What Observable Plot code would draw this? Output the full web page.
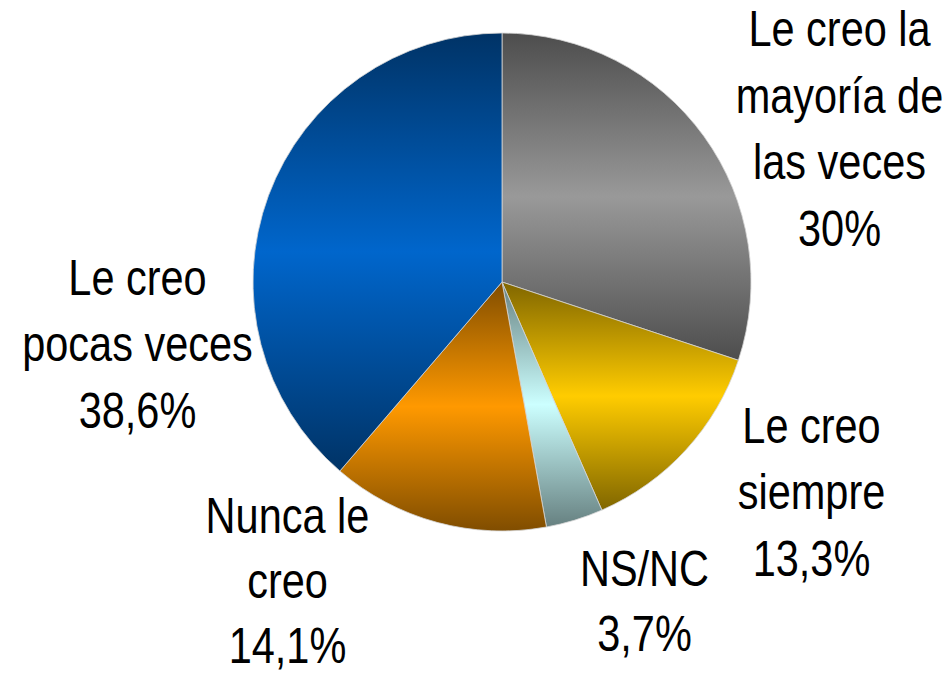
<!DOCTYPE html>
<html>
<head>
<meta charset="utf-8">
<script src="https://cdn.jsdelivr.net/npm/d3@7"></script>
<script src="https://cdn.jsdelivr.net/npm/@observablehq/plot@0.6"></script>
<style>
  html, body { margin: 0; padding: 0; background: #fff; }
  #chart svg { display: block; }
</style>
</head>
<body>
<div id="chart"></div>
<script>
// ---- data ----
const categories = ["Le creo la mayoría de las veces", "Le creo siempre", "NS/NC", "Nunca le creo", "Le creo pocas veces"];
const values = [30, 13.3, 3.7, 14.1, 38.6];
const valueLabels = ["30%", "13,3%", "3,7%", "14,1%", "38,6%"];
const labelLines = [
  ["Le creo la", "mayoría de", "las veces"],
  ["Le creo", "siempre"],
  ["NS/NC"],
  ["Nunca le", "creo"],
  ["Le creo", "pocas veces"]
];
const baseColors = ["#999999", "#ffcc00", "#ccffff", "#ff9900", "#0066cc"];

// ---- layout (pixels) ----
const W = 951, H = 674;
const CX = 502, CY = 282, R = 249;
const NARROW = 0.83; // horizontal condense factor for a narrow sans look
// label anchor: center x and last baseline y, in pixels
const labelAnchor = [[839, 245], [811, 575], [644, 650], [287, 662], [137, 427]];
const labelLineHeight = [1.33, 1.33, 1.3, 1.3, 1.33];

const rows = categories.map((c, i) => ({
  category: c,
  value: values[i],
  label: labelLines[i].concat([valueLabels[i]]).join("\n"),
  color: baseColors[i],
  lx: (labelAnchor[i][0] - CX) / R,
  ly: (CY - labelAnchor[i][1]) / R
}));

const arcs = d3.pie().sort(null).value(d => d.value).startAngle(0).endAngle(2 * Math.PI)(rows);

function pieMark(index, scales, values, dimensions) {
  const x = scales.x, y = scales.y;
  const cx = x(0), cy = y(0), r = x(1) - x(0);
  const g = d3.create("svg:g");
  const defs = g.append("defs");
  arcs.forEach((a, i) => {
    const base = d3.rgb(a.data.color);
    const dark = d3.rgb(base.r * 0.5, base.g * 0.5, base.b * 0.5);
    const lg = defs.append("linearGradient")
      .attr("id", "grad" + i)
      .attr("x1", 0).attr("y1", 0).attr("x2", 0).attr("y2", 1);
    lg.append("stop").attr("offset", "0%").attr("stop-color", dark.formatHex());
    lg.append("stop").attr("offset", "50%").attr("stop-color", base.formatHex());
    lg.append("stop").attr("offset", "100%").attr("stop-color", dark.formatHex());
  });
  const arc = d3.arc().innerRadius(0).outerRadius(r);
  g.append("g")
    .attr("transform", `translate(${cx},${cy})`)
    .selectAll("path")
    .data(arcs)
    .join("path")
    .attr("d", arc)
    .attr("fill", (d, i) => `url(#grad${i})`)
    .attr("stroke", "#d4d4d4")
    .attr("stroke-width", 0.8);
  return g.node();
}

const textMarks = rows.map((row, i) => Plot.text([row], {
  x: "lx",
  y: "ly",
  text: "label",
  textAnchor: "middle",
  lineAnchor: "bottom",
  lineHeight: labelLineHeight[i],
  fontSize: 50,
  fontFamily: "'Liberation Sans', Arial, sans-serif",
  fill: "#000"
}));

const chart = Plot.plot({
  width: W,
  height: H,
  margin: 0,
  x: { domain: [-CX / R, (W - CX) / R], axis: null },
  y: { domain: [-(H - CY) / R, CY / R], axis: null },
  style: { background: "#fff" },
  marks: [pieMark, ...textMarks]
});

// condense label text horizontally (Arial Narrow look)
d3.select(chart).selectAll("text").each(function () {
  const t = this.getAttribute("transform") || "";
  const xa = this.getAttribute("x");
  const ya = this.getAttribute("y");
  let pre = "";
  if (xa != null || ya != null) {
    pre = `translate(${+xa || 0},${+ya || 0}) `;
    this.removeAttribute("x");
    this.removeAttribute("y");
  }
  this.setAttribute("transform", `${t} ${pre}scale(${NARROW},1)`.trim());
});

document.getElementById("chart").appendChild(chart);
</script>
</body>
</html>
